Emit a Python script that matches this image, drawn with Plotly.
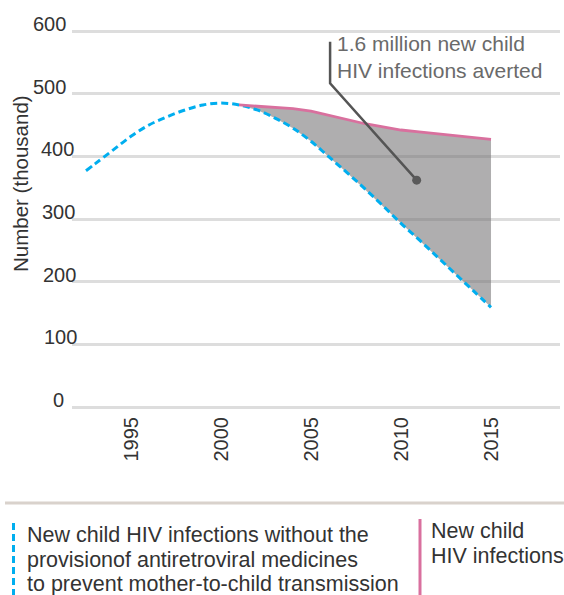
import plotly.graph_objects as go

# ---- data ----
years_without = [1992.5, 1993, 1994, 1995, 1996, 1997, 1998, 1999, 2000, 2001, 2002, 2003,
                 2004, 2005, 2006, 2007, 2008, 2009, 2010, 2011, 2012, 2013, 2014, 2015]
values_without = [377, 388, 410, 432, 450, 463, 474, 482, 485, 482, 474, 461,
                  445, 424, 399, 374, 348, 321, 293, 267, 240, 213, 186, 159]

years_actual = [2001, 2002, 2003, 2004, 2005, 2006, 2007, 2008, 2009, 2010, 2011, 2012, 2013, 2014, 2015]
values_actual = [482, 480, 478, 476, 472, 465, 458, 452, 447, 442, 439, 436, 433, 430, 427]

x_ticks = [1995, 2000, 2005, 2010, 2015]
y_ticks = [0, 100, 200, 300, 400, 500, 600]
y_tick_centers_px = [58, 60, 59.5, 58.7, 57.5, 49, 49]

callout_x = [2006.06, 2006.06, 2010.87]
callout_y = [583, 516.5, 362]
callout_text = "1.6 million new child<br>HIV infections averted"

legend_without = ["New child HIV infections without the",
                  "provisionof antiretroviral medicines",
                  "to prevent mother-to-child transmission"]
legend_actual = ["New child", "HIV infections"]

BLUE = "#00aeef"
PINK = "#d9709e"
FONT = "Liberation Sans"

# ---- geometry helpers (pixels -> paper) ----
W, H = 564, 595
L, R, T, B = 72, 560, 20, 412


def px(x):
    return (x - L) / (R - L)


def py(y):
    return (B - y) / (B - T)


fig = go.Figure()

# shaded area between the two series
start = years_without.index(years_actual[0])
poly_x = years_actual + years_without[start:][::-1]
poly_y = values_actual + values_without[start:][::-1]
fig.add_trace(go.Scatter(x=poly_x, y=poly_y, fill="toself", mode="lines",
                         line=dict(width=0), fillcolor="rgba(115,113,114,0.57)",
                         hoverinfo="skip", showlegend=False))

fig.add_trace(go.Scatter(x=years_without, y=values_without, mode="lines",
                         line=dict(color=BLUE, width=3, dash="7px,4px", shape="spline"),
                         showlegend=False))
fig.add_trace(go.Scatter(x=years_actual, y=values_actual, mode="lines",
                         line=dict(color=PINK, width=2.8), showlegend=False))

# callout
fig.add_trace(go.Scatter(x=callout_x, y=callout_y, mode="lines",
                         line=dict(color="#555555", width=2.5), showlegend=False,
                         hoverinfo="skip"))
fig.add_trace(go.Scatter(x=[callout_x[-1]], y=[callout_y[-1]], mode="markers",
                         marker=dict(color="#5a5a5a", size=9), showlegend=False,
                         hoverinfo="skip"))

annotations = []
annotations.append(dict(x=px(335), y=py(30), xref="paper", yref="paper",
                        text=callout_text, showarrow=False, xanchor="left", yanchor="top",
                        align="left", font=dict(family=FONT, size=21, color="#6a6a6a")))

# y tick labels
for v, c in zip(y_ticks, y_tick_centers_px):
    annotations.append(dict(x=px(c), y=v, xref="paper", yref="y", text=str(v),
                            showarrow=False, xanchor="center", yanchor="middle", yshift=7,
                            font=dict(family=FONT, size=20, color="#333333")))

# y axis title
annotations.append(dict(x=px(20), y=py(184), xref="paper", yref="paper",
                        text="Number (thousand)", textangle=-90, showarrow=False,
                        xanchor="center", yanchor="middle",
                        font=dict(family=FONT, size=20.5, color="#333333")))

# legend texts
for i, t in enumerate(legend_without):
    annotations.append(dict(x=px(25), y=py(535 + 24.5 * i), xref="paper", yref="paper",
                            text=t, showarrow=False, xanchor="left", yanchor="middle",
                            font=dict(family=FONT, size=21.5, color="#333333")))
for i, t in enumerate(legend_actual):
    annotations.append(dict(x=px(429), y=py(531 + 24.5 * i), xref="paper", yref="paper",
                            text=t, showarrow=False, xanchor="left", yanchor="middle",
                            font=dict(family=FONT, size=21.5, color="#333333")))

shapes = [
    dict(type="line", xref="paper", yref="paper", x0=px(5), x1=px(564), y0=py(503), y1=py(503),
         line=dict(color="#d9d2cc", width=3)),
    dict(type="line", xref="paper", yref="paper", x0=px(13.5), x1=px(13.5), y0=py(523), y1=py(597),
         line=dict(color=BLUE, width=3, dash="7px,4px")),
    dict(type="line", xref="paper", yref="paper", x0=px(420), x1=px(420), y0=py(519), y1=py(597),
         line=dict(color=PINK, width=3)),
]

fig.update_layout(
    width=W, height=H,
    margin=dict(l=L, r=W - R, t=T, b=H - B, pad=0),
    paper_bgcolor="white", plot_bgcolor="white",
    annotations=annotations, shapes=shapes,
    xaxis=dict(range=[1991.722, 2018.833], tickvals=x_ticks, ticktext=[str(v) for v in x_ticks],
               tickangle=-90, showgrid=False, zeroline=False, showline=False,
               tickfont=dict(family=FONT, size=20, color="#333333"), ticks=""),
    yaxis=dict(range=[-7.98, 617.55], tickvals=y_ticks, showticklabels=False,
               showgrid=True, gridcolor="#dddddd", gridwidth=2.5, zeroline=False,
               showline=False, ticks=""),
)

fig.write_html("out.html")
